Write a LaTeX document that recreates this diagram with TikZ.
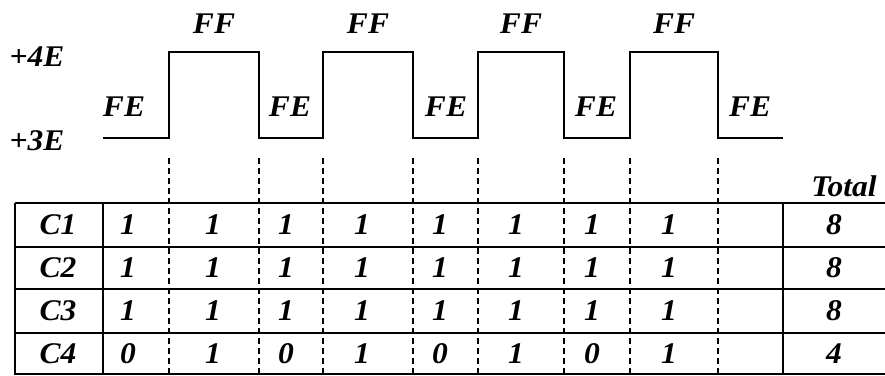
\documentclass[tikz,border=0pt]{standalone}
\usepackage{fontspec}
\setmainfont{Liberation Serif}
\begin{document}
\begin{tikzpicture}[x=1pt,y=-1pt,
  txt/.style={font=\fontsize{30}{32}\selectfont\bfseries\itshape, inner sep=0pt, xscale=1.05},
  wave/.style={line width=2.2pt, line join=miter},
  gridline/.style={line width=2.2pt},
  sepline/.style={line width=2.2pt, dash pattern=on 6pt off 4pt}]
\useasboundingbox (0,0) rectangle (885,375);
% level labels
\node[txt] (l4) at (37,57) {+4E};
\node[txt] (l3) at (37,141) {+3E};
% waveform
\def\lo{138}\def\hi{52}
\draw[wave] (103,\lo) -- (169,\lo) -- (169,\hi) -- (259,\hi) -- (259,\lo) -- (323,\lo) -- (323,\hi) -- (413,\hi) -- (413,\lo)
  -- (478,\lo) -- (478,\hi) -- (564,\hi) -- (564,\lo) -- (630,\lo) -- (630,\hi) -- (718,\hi) -- (718,\lo) -- (783,\lo);
% FF labels
\foreach \x/\n in {214/1,368/2,521/3,674/4} \node[txt] (ff\n) at (\x,24) {FF};
% FE labels
\foreach \x/\n in {124/1,290/2,446/3,596/4,750/5} \node[txt] (fe\n) at (\x,107) {FE};
% dashed separators
\foreach \x in {169,259,323,413,478,564,630,718} \draw[sepline] (\x,158) -- (\x,375);
% table lines
\foreach \y in {203,247,289,333,374} \draw[gridline] (15,\y) -- (885,\y);
\draw[gridline] (15,203) -- (15,375);
\draw[gridline] (103,203) -- (103,375);
\draw[gridline] (783,203) -- (783,375);
% header
\node[txt] (total) at (844,186) {Total};
% row labels
\foreach \y/\t in {225/C1,268/C2,311/C3,354/C4} \node[txt] (r\t) at (58,\y) {\t};
% values
\foreach \x [count=\i] in {128,213,286,362,440,516,592,669} {
  \node[txt] (a\i) at (\x,225) {1};
  \node[txt] (b\i) at (\x,268) {1};
  \node[txt] (c\i) at (\x,311) {1};
}
\foreach \x/\v [count=\i] in {128/0,213/1,286/0,362/1,440/0,516/1,592/0,669/1} \node[txt] (d\i) at (\x,354) {\v};
% totals
\foreach \y/\v [count=\i] in {225/8,268/8,311/8,354/4} \node[txt] (t\i) at (834,\y) {\v};
\end{tikzpicture}
\end{document}
